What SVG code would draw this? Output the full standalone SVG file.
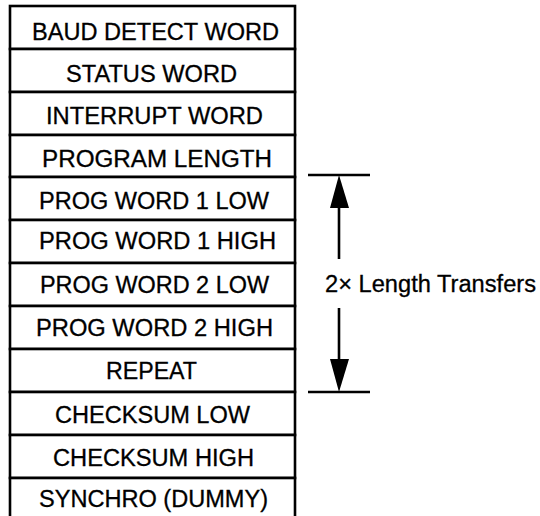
<svg xmlns="http://www.w3.org/2000/svg" width="540" height="516" viewBox="0 0 540 516">
<style>
.row{fill:#fff;stroke:#000;stroke-width:2.6}
.t{font-family:"Liberation Sans",Arial,sans-serif;font-size:23px;fill:#000;stroke:#000;stroke-width:0.3}
.dim{stroke:#000;stroke-width:2.6;fill:none}
.head{fill:#000;stroke:none}
</style>
<rect width="540" height="516" fill="#fff"/>
<g id="baud"><rect class="row" x="10" y="6" width="285" height="43"/><text class="t" x="32" y="40" textLength="247" lengthAdjust="spacingAndGlyphs">BAUD DETECT WORD</text></g>
<g id="status"><rect class="row" x="10" y="49" width="285" height="43"/><text class="t" x="66" y="82" textLength="171" lengthAdjust="spacingAndGlyphs">STATUS WORD</text></g>
<g id="interrupt"><rect class="row" x="10" y="92" width="285" height="43"/><text class="t" x="46" y="124" textLength="217" lengthAdjust="spacingAndGlyphs">INTERRUPT WORD</text></g>
<g id="proglen"><rect class="row" x="10" y="135" width="285" height="42"/><text class="t" x="42" y="167" textLength="230" lengthAdjust="spacingAndGlyphs">PROGRAM LENGTH</text></g>
<g id="pw1low"><rect class="row" x="10" y="177" width="285" height="43"/><text class="t" x="39" y="209" textLength="230" lengthAdjust="spacingAndGlyphs">PROG WORD 1 LOW</text></g>
<g id="pw1high"><rect class="row" x="10" y="220" width="285" height="43"/><text class="t" x="39" y="249" textLength="237" lengthAdjust="spacingAndGlyphs">PROG WORD 1 HIGH</text></g>
<g id="pw2low"><rect class="row" x="10" y="263" width="285" height="43"/><text class="t" x="40" y="293" textLength="229" lengthAdjust="spacingAndGlyphs">PROG WORD 2 LOW</text></g>
<g id="pw2high"><rect class="row" x="10" y="306" width="285" height="43"/><text class="t" x="36" y="336" textLength="237" lengthAdjust="spacingAndGlyphs">PROG WORD 2 HIGH</text></g>
<g id="repeat"><rect class="row" x="10" y="349" width="285" height="43"/><text class="t" x="106" y="379" textLength="91" lengthAdjust="spacingAndGlyphs">REPEAT</text></g>
<g id="cslow"><rect class="row" x="10" y="392" width="285" height="43"/><text class="t" x="55" y="423" textLength="195" lengthAdjust="spacingAndGlyphs">CHECKSUM LOW</text></g>
<g id="cshigh"><rect class="row" x="10" y="435" width="285" height="43"/><text class="t" x="53" y="466" textLength="201" lengthAdjust="spacingAndGlyphs">CHECKSUM HIGH</text></g>
<g id="synchro"><rect class="row" x="10" y="478" width="285" height="50"/><text class="t" x="39" y="507" textLength="229" lengthAdjust="spacingAndGlyphs">SYNCHRO (DUMMY)</text></g>
<g id="connectors">
<line class="dim" x1="308" y1="175" x2="370" y2="175"/>
<line class="dim" x1="308" y1="392" x2="370" y2="392"/>
<line class="dim" x1="339" y1="205" x2="339" y2="259"/>
<polygon class="head" points="339,175 330,208 349,208"/>
<line class="dim" x1="339" y1="308" x2="339" y2="362"/>
<polygon class="head" points="339,392 330,359 349,359"/>
</g>
<g id="label"><text class="t" x="325" y="292" textLength="211" lengthAdjust="spacingAndGlyphs">2× Length Transfers</text></g>
</svg>
